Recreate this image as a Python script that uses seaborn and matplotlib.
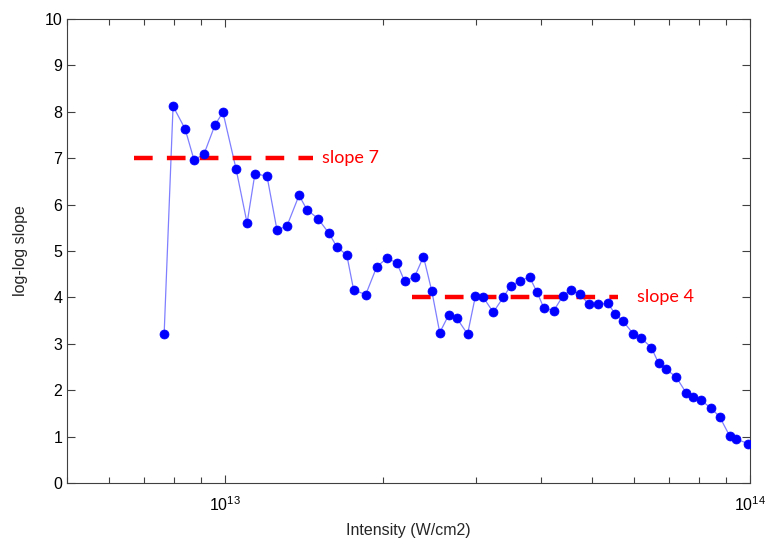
import numpy as np
import pandas as pd
import matplotlib
matplotlib.use("Agg")
import matplotlib.pyplot as plt
import seaborn as sns
from matplotlib.ticker import LogLocator, NullFormatter, FixedLocator

# log10 of intensity (W/cm2) and log-log slope
log_intensity = [12.884, 12.901, 12.924, 12.941, 12.960, 12.981, 12.996, 13.021, 13.042, 13.057,
                 13.080, 13.099, 13.118, 13.141, 13.156, 13.177, 13.198, 13.213, 13.232, 13.245,
                 13.268, 13.289, 13.308, 13.327, 13.342, 13.361, 13.378, 13.394, 13.409, 13.426,
                 13.441, 13.462, 13.477, 13.492, 13.511, 13.530, 13.544, 13.561, 13.580, 13.594,
                 13.607, 13.626, 13.644, 13.659, 13.676, 13.693, 13.710, 13.729, 13.743, 13.758,
                 13.778, 13.793, 13.812, 13.826, 13.840, 13.859, 13.878, 13.892, 13.906, 13.925,
                 13.942, 13.961, 13.973, 13.996]
slope = [3.21, 8.12, 7.63, 6.96, 7.09, 7.72, 7.99, 6.77, 5.60, 6.67,
         6.61, 5.45, 5.54, 6.20, 5.89, 5.70, 5.38, 5.09, 4.91, 4.16,
         4.06, 4.66, 4.84, 4.75, 4.35, 4.44, 4.88, 4.13, 3.24, 3.62,
         3.56, 3.21, 4.03, 4.00, 3.68, 4.00, 4.25, 4.35, 4.44, 4.12,
         3.78, 3.71, 4.04, 4.16, 4.07, 3.85, 3.85, 3.87, 3.65, 3.49,
         3.21, 3.12, 2.92, 2.58, 2.45, 2.29, 1.95, 1.86, 1.79, 1.62,
         1.43, 1.02, 0.95, 0.85]

fit7_x = [6.71e12, 1.468e13]
fit7_y = [7, 7]
fit4_x = [2.27e13, 5.60e13]
fit4_y = [4, 4]

df = pd.DataFrame({"intensity": 10 ** np.array(log_intensity), "slope": slope})

sns.set_style("ticks")
plt.rcParams["font.family"] = ["Liberation Sans", "DejaVu Sans"]
plt.rcParams["mathtext.fontset"] = "custom"
plt.rcParams["mathtext.rm"] = "Liberation Sans"

fig = plt.figure(figsize=(7.67, 5.40), dpi=100)
ax = fig.add_axes([67 / 767, 1 - 483 / 540, (750 - 67) / 767, (483 - 19) / 540])

sns.lineplot(data=df, x="intensity", y="slope", ax=ax, color="#7f7fff", linewidth=0.9,
             sort=False, estimator=None)
sns.scatterplot(data=df, x="intensity", y="slope", ax=ax, color="#0000ff", s=42,
                edgecolor="#0000ff", linewidth=0.5, zorder=4)
sns.lineplot(x=fit7_x, y=fit7_y, ax=ax, color="#ff0000", linewidth=3.2,
             zorder=3).lines[-1].set_dashes([4.2, 3.2])
sns.lineplot(x=fit4_x, y=fit4_y, ax=ax, color="#ff0000", linewidth=3.2,
             zorder=3).lines[-1].set_dashes([4.2, 3.2])

ax.text(1.527e13, 7, "slope 7", color="#ff0000", fontsize=13, va="center", ha="left",
        family=["Lato", "DejaVu Sans"])
ax.text(6.09e13, 4, "slope 4", color="#ff0000", fontsize=13, va="center", ha="left",
        family=["Lato", "DejaVu Sans"])

ax.set_xscale("log")
ax.set_xlim(5e12, 1e14)
ax.set_ylim(0, 10)
ax.yaxis.set_major_locator(FixedLocator(range(0, 11)))
ax.xaxis.set_major_locator(LogLocator(base=10))
ax.xaxis.set_minor_locator(LogLocator(base=10, subs=np.arange(2, 10)))
ax.xaxis.set_minor_formatter(NullFormatter())

ax.tick_params(axis="both", which="both", direction="in", top=True, right=True,
               color="#404040", width=0.8)
ax.tick_params(axis="both", which="major", length=6, labelsize=11.5, labelcolor="#000000")
ax.tick_params(axis="x", which="minor", length=4)
ax.tick_params(axis="x", which="major", pad=9)
for sp in ax.spines.values():
    sp.set_color("#404040")
    sp.set_linewidth(0.8)

ax.set_xlabel("Intensity (W/cm2)", fontsize=11.5, labelpad=6)
ax.set_ylabel("log-log slope", fontsize=11.5, labelpad=12)

fig.savefig("out.png", dpi=100)
